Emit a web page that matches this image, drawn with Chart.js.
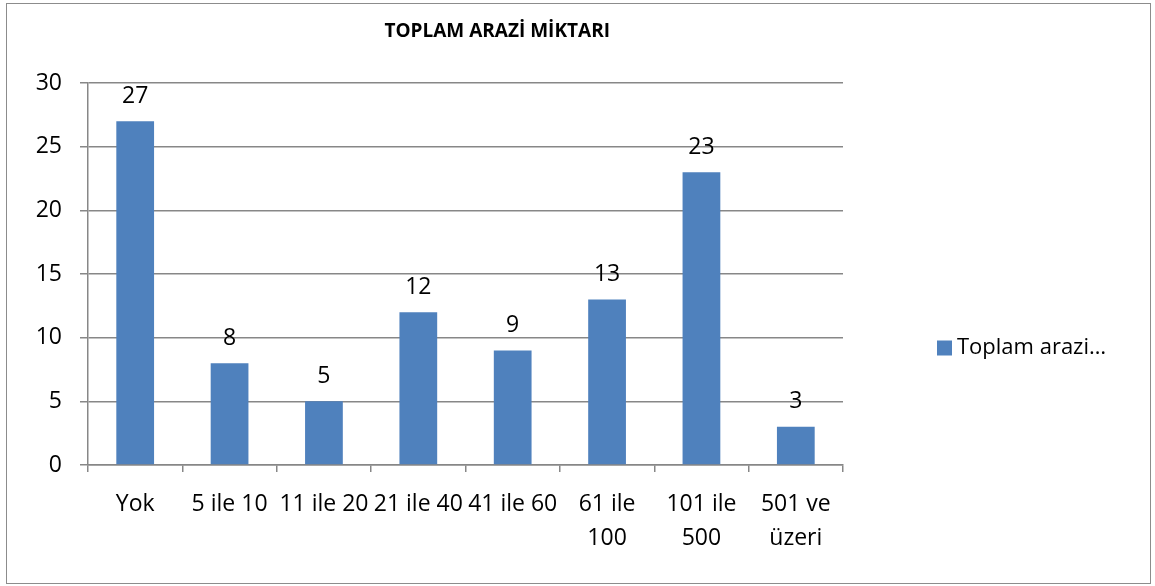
<!DOCTYPE html>
<html><head><meta charset="utf-8">
<script src="https://cdn.jsdelivr.net/npm/chart.js@4/dist/chart.umd.min.js"></script>
<style>
html,body{margin:0;padding:0;background:#fff;}
#wrap{position:relative;width:1155px;height:586px;}
#frame{position:absolute;left:6px;top:3px;width:1145px;height:581px;border:1.5px solid #8c8c8c;box-sizing:border-box;pointer-events:none}
canvas{position:absolute;left:0;top:0}
</style></head><body>
<div id="wrap"><canvas id="c" width="1155" height="586"></canvas><div id="frame"></div></div>
<script>
const chartTitle = 'TOPLAM ARAZİ MİKTARI';
const categories = ['Yok','5 ile 10','11 ile 20','21 ile 40','41 ile 60',['61 ile','100'],['101 ile','500'],['501 ve','üzeri']];
const seriesName = 'Toplam arazi miktarı';
const legendText = 'Toplam arazi…';
const values = [27,8,5,12,9,13,23,3];
const yTicks = [0,5,10,15,20,25,30];

const FONT = "'Open Sans', 'DejaVu Sans', sans-serif";
const BAR = '#4F81BD';
const GRID = '#878787';

const valueLabels = {
  id: 'valueLabels',
  afterDatasetsDraw(chart) {
    const ctx = chart.ctx;
    const meta = chart.getDatasetMeta(0);
    ctx.save();
    ctx.font = "23px " + FONT;
    ctx.fillStyle = '#000';
    ctx.textAlign = 'center';
    ctx.textBaseline = 'middle';
    meta.data.forEach((bar, i) => {
      ctx.fillText(String(chart.data.datasets[0].data[i]), bar.x, bar.y - 25);
    });
    ctx.restore();
  }
};

const titleAndLegend = {
  id: 'titleAndLegend',
  afterDraw(chart) {
    const ctx = chart.ctx;
    const area = chart.chartArea;
    ctx.save();
    // title
    ctx.font = "bold 19px " + FONT;
    ctx.fillStyle = '#000';
    ctx.textAlign = 'center';
    ctx.textBaseline = 'middle';
    ctx.fillText(chartTitle, area.left + (area.right - area.left) * 0.542, 32);
    // legend
    const ds = chart.data.datasets[0];
    const lx = area.right + 94, ly = 348;
    ctx.fillStyle = ds.backgroundColor;
    ctx.fillRect(lx, ly - 7.5, 15, 15);
    ctx.font = "22px " + FONT;
    ctx.fillStyle = '#000';
    ctx.textAlign = 'left';
    ctx.fillText(legendText, lx + 20, ly);
    ctx.restore();
  }
};

new Chart(document.getElementById('c'), {
  type: 'bar',
  data: {
    labels: categories,
    datasets: [{
      label: seriesName,
      data: values,
      backgroundColor: BAR,
      borderWidth: 0,
      categoryPercentage: 1,
      barPercentage: 0.4
    }]
  },
  options: {
    responsive: false,
    devicePixelRatio: 1,
    animation: false,
    layout: { padding: { left: 0, top: 83, right: 312, bottom: 0 } },
    plugins: {
      legend: { display: false },
      title: { display: false },
      tooltip: { enabled: false }
    },
    scales: {
      x: {
        grid: { offset: true, drawOnChartArea: false, drawTicks: true, tickLength: 7, color: GRID, lineWidth: 1.5 },
        border: { display: true, color: GRID, width: 1.5 },
        ticks: { autoSkip: false, maxRotation: 0, minRotation: 0, padding: 16, color: '#000',
                 font: { family: FONT, size: 23, lineHeight: 1.45 } },
        afterFit(scale) { scale.height = 121; }
      },
      y: {
        min: 0, max: 30,
        afterBuildTicks(scale) { scale.ticks = yTicks.map(v => ({ value: v })); },
        grid: { drawOnChartArea: true, drawTicks: true, tickLength: 8, color: GRID, lineWidth: 1.5 },
        border: { display: true, color: GRID, width: 1.5 },
        ticks: { padding: 18, color: '#000', font: { family: FONT, size: 23 } },
        afterFit(scale) { scale.width = 88; }
      }
    }
  },
  plugins: [valueLabels, titleAndLegend]
});
</script>
</body></html>
